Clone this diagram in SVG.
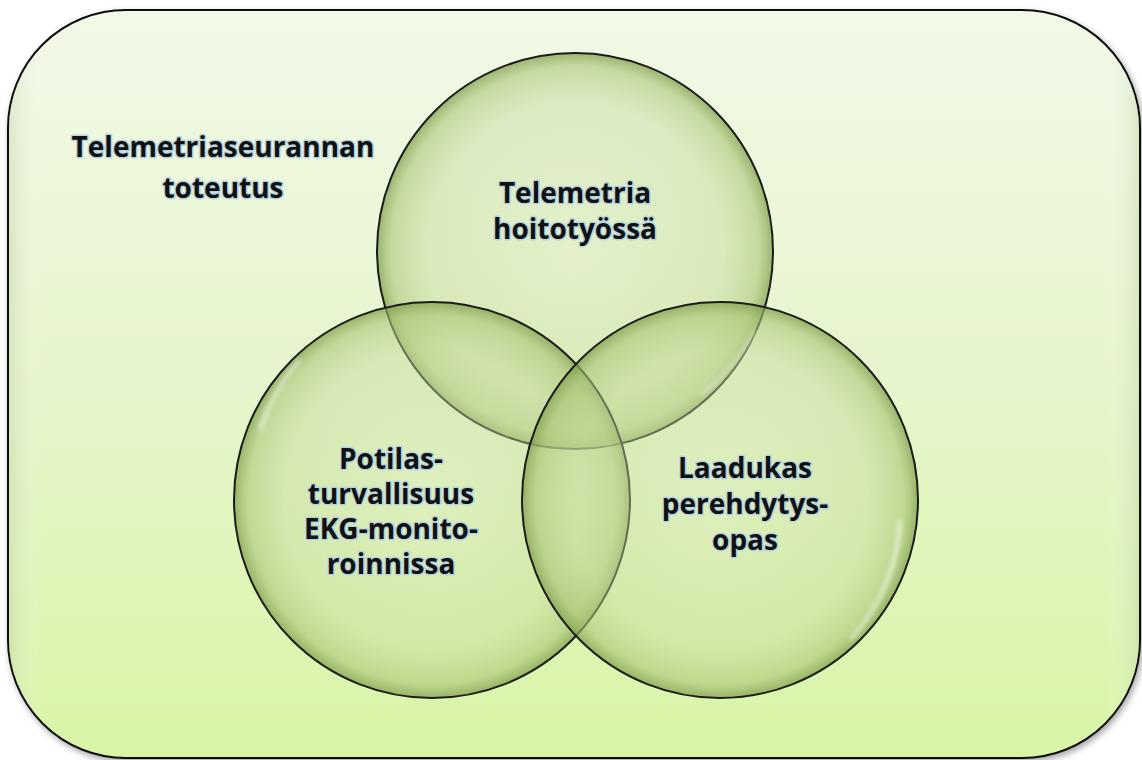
<svg xmlns="http://www.w3.org/2000/svg" width="1142" height="760" viewBox="0 0 1142 760">
<defs>
  <linearGradient id="bg" x1="0" y1="0" x2="0" y2="1">
    <stop offset="0" stop-color="#f2f9e8"/>
    <stop offset="0.5" stop-color="#e6f5cc"/>
    <stop offset="1" stop-color="#d8f5a6"/>
  </linearGradient>
  <linearGradient id="edge" x1="0" y1="0" x2="1" y2="0">
    <stop offset="0" stop-color="#b8c8a0" stop-opacity="0.35"/>
    <stop offset="0.03" stop-color="#ffffff" stop-opacity="0"/>
    <stop offset="0.97" stop-color="#ffffff" stop-opacity="0"/>
    <stop offset="1" stop-color="#b8c8a0" stop-opacity="0.35"/>
  </linearGradient>
  <radialGradient id="ball" cx="0.5" cy="0.5" r="0.5">
    <stop offset="0" stop-color="#d6e6b4" stop-opacity="0.35"/>
    <stop offset="0.75" stop-color="#c4d99a" stop-opacity="0.45"/>
    <stop offset="0.93" stop-color="#a9c476" stop-opacity="0.6"/>
    <stop offset="1" stop-color="#7f9d4a" stop-opacity="0.75"/>
  </radialGradient>
  <filter id="shadow" x="-5%" y="-5%" width="110%" height="110%">
    <feDropShadow dx="2" dy="3" stdDeviation="3" flood-color="#000" flood-opacity="0.35"/>
  </filter>
  <filter id="soft" x="-10%" y="-10%" width="120%" height="120%">
    <feGaussianBlur stdDeviation="2"/>
  </filter>
</defs>
<style>
  .lbl { font-family: "Open Sans", "Liberation Sans", sans-serif; font-weight: bold; font-size: 28px; fill: #111; text-anchor: middle; stroke: #b9d6df; stroke-width: 3px; paint-order: stroke; stroke-linejoin: round; }
  .ring { fill: url(#ball); stroke: #1c1c1c; stroke-width: 2; }
  .gloss { fill: none; stroke: #ffffff; stroke-opacity: 0.55; stroke-width: 4; filter: url(#soft); }
</style>

<g id="frame">
  <rect x="8" y="10" width="1132" height="748" rx="118" ry="118" fill="url(#bg)" stroke="#111" stroke-width="2" filter="url(#shadow)"/>
  <rect x="9" y="11" width="1130" height="746" rx="117" ry="117" fill="url(#edge)"/>
</g>

<g id="title">
  <text class="lbl" x="223" y="157">Telemetriaseurannan</text>
  <text class="lbl" x="223" y="198">toteutus</text>
</g>

<g id="circle-top">
  <circle class="ring" cx="575" cy="251" r="198"/>
  <path class="gloss" d="M 755 330 A 186 186 0 0 1 700 395"/>
  <text class="lbl" x="575" y="203">Telemetria</text>
  <text class="lbl" x="575" y="239">hoitotyössä</text>
</g>

<g id="circle-left">
  <circle class="ring" cx="432" cy="500" r="198"/>
  <path class="gloss" d="M 260 430 A 186 186 0 0 1 300 360"/>
  <text class="lbl" x="391" y="469">Potilas-</text>
  <text class="lbl" x="391" y="504">turvallisuus</text>
  <text class="lbl" x="391" y="539">EKG-monito-</text>
  <text class="lbl" x="391" y="574">roinnissa</text>
</g>

<g id="circle-right">
  <circle class="ring" cx="720" cy="500" r="198"/>
  <path class="gloss" d="M 900 520 A 186 186 0 0 1 850 640"/>
  <text class="lbl" x="745" y="478">Laadukas</text>
  <text class="lbl" x="745" y="514">perehdytys-</text>
  <text class="lbl" x="745" y="550">opas</text>
</g>

<g id="connectors"></g>
</svg>
